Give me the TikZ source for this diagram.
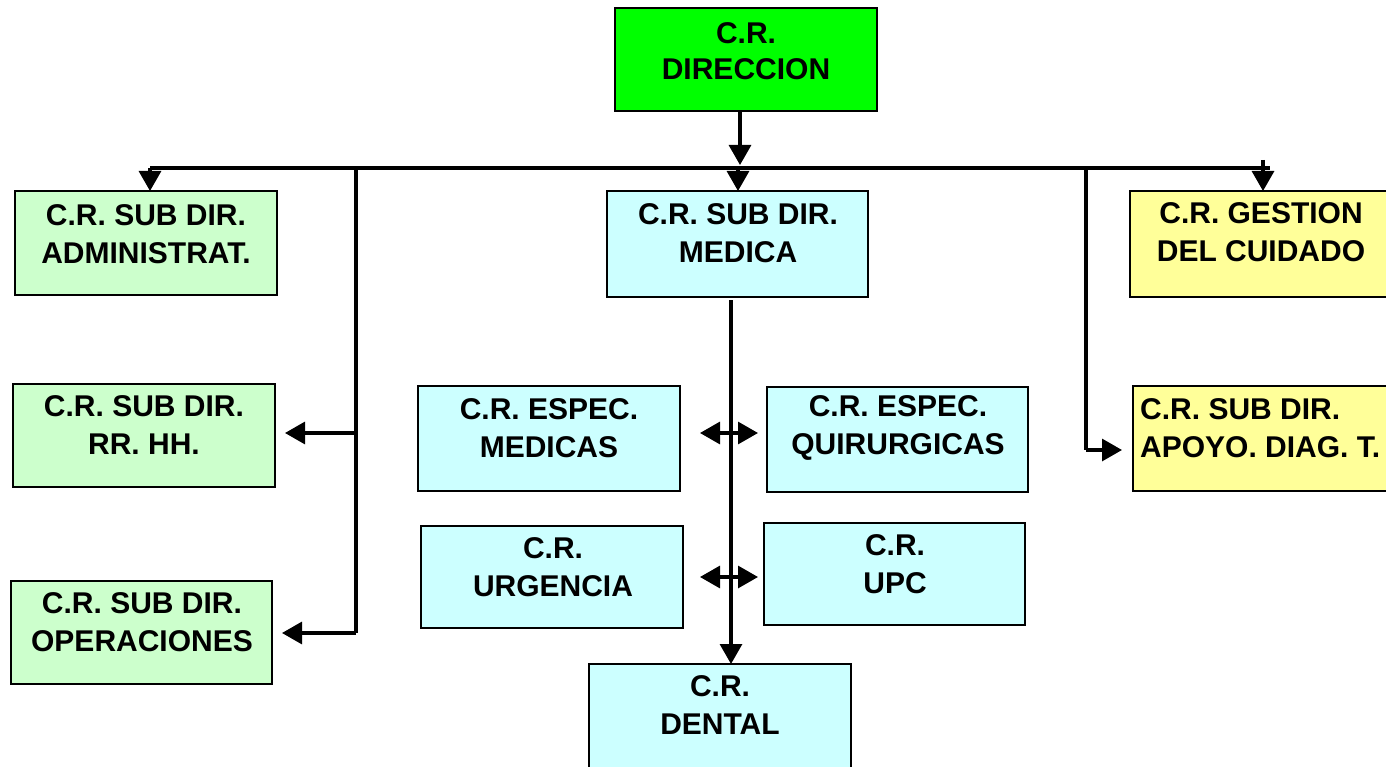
\documentclass[tikz,border=0pt]{standalone}
\usepackage{fontspec}
\setmainfont{Liberation Sans}
\usetikzlibrary{arrows.meta}
\definecolor{dirgreen}{HTML}{00FF00}
\definecolor{lgreen}{HTML}{CCFFCC}
\definecolor{lcyan}{HTML}{CCFFFF}
\definecolor{lyellow}{HTML}{FFFF99}
\newcommand{\orgbox}[6]{\node[orgrect,fill=#6,minimum width={(#4)-(#2)},minimum height={(#5)-(#3)}] (#1) at ({((#2)+(#4))/2},{((#3)+(#5))/2}) {};}
\begin{document}
\begin{tikzpicture}[x=1pt,y=-1pt,
  orgrect/.style={draw=black,line width=2.3pt,inner sep=0pt,outer sep=0pt,rectangle},
  lbl/.style={font=\fontsize{30}{38}\selectfont\bfseries,align=center,inner sep=0pt,text=black},
  conn/.style={draw=black,line width=3.1pt},
  arr/.style={conn,-{Triangle[length=20pt,width=22pt]}},
  darr/.style={conn,{Triangle[length=20pt,width=22pt]}-{Triangle[length=20pt,width=22pt]}}]
\clip (0,0) rectangle (1386,767);
\fill[white] (0,0) rectangle (1386,767);
% boxes
\orgbox{dir}{615}{8}{877}{111}{dirgreen}
\orgbox{adm}{15}{191}{277}{295}{lgreen}
\orgbox{med}{607}{191}{868}{297}{lcyan}
\orgbox{ges}{1130}{191}{1420}{297}{lyellow}
\orgbox{rrhh}{13}{384}{275}{487}{lgreen}
\orgbox{espm}{418}{386}{680}{491}{lcyan}
\orgbox{espq}{767}{387}{1028}{492}{lcyan}
\orgbox{apo}{1133}{386}{1420}{491}{lyellow}
\orgbox{urg}{421}{526}{683}{628}{lcyan}
\orgbox{upc}{764}{523}{1025}{625}{lcyan}
\orgbox{ope}{11}{581}{272}{684}{lgreen}
\orgbox{den}{589}{664}{851}{790}{lcyan}
% texts
\node[lbl,font=\fontsize{30}{36}\selectfont\bfseries] (tdir) at (746,51) {C.R.\\DIRECCION};
\node[lbl] (tadm) at (146,234) {C.R. SUB DIR.\\ADMINISTRAT.};
\node[lbl] (tmed) at (738,233.5) {C.R. SUB DIR.\\MEDICA};
\node[lbl] (tges) at (1261,232.5) {C.R. GESTION\\DEL CUIDADO};
\node[lbl] (trrhh) at (144,425.5) {C.R. SUB DIR.\\RR. HH.};
\node[lbl] (tespm) at (549,428) {C.R. ESPEC.\\MEDICAS};
\node[lbl] (tespq) at (898,428) {C.R. ESPEC.\\QUIRURGICAS};
\node[lbl,align=left,anchor=west] (tapo) at (1140,428) {C.R. SUB DIR.\\APOYO. DIAG. T.};
\node[lbl] (turg) at (553,567) {C.R.\\URGENCIA};
\node[lbl] (tupc) at (895,564) {C.R.\\UPC};
\node[lbl] (tope) at (142,622) {C.R. SUB DIR.\\OPERACIONES};
\node[lbl] (tden) at (720,705) {C.R.\\DENTAL};
% junction coordinates
\coordinate (dout) at (740,111);
\coordinate (din) at (740,165);
\coordinate (busL) at (150,168);
\coordinate (busR) at (1270,168);
\coordinate (bM) at (738,168);
\coordinate (bG) at (1263,160);
\coordinate (vLt) at (356,168);
\coordinate (vLa) at (356,433);
\coordinate (vLb) at (356,633);
\coordinate (rrin) at (285,433);
\coordinate (opin) at (282,633);
\coordinate (vRt) at (1086,168);
\coordinate (vRb) at (1086,450);
\coordinate (apin) at (1122,450);
\coordinate (mout) at (731,300);
\coordinate (m1L) at (700,433);
\coordinate (m1R) at (758,433);
\coordinate (m2L) at (700,577);
\coordinate (m2R) at (758,577);
% connectors
\draw[arr] (dout) -- (din);
\draw[conn] (busL) -- (busR);
\draw[arr] (busL) -- (busL |- adm.north);
\draw[arr] (bM) -- (bM |- med.north);
\draw[arr] (bG) -- (bG |- ges.north);
\draw[conn] (vLt) -- (vLb);
\draw[arr] (vLa) -- (rrin);
\draw[arr] (vLb) -- (opin);
\draw[conn] (vRt) -- (vRb);
\draw[arr] (vRb) -- (apin);
\draw[arr] (mout) -- (mout |- den.north);
\draw[darr] (m1L) -- (m1R);
\draw[darr] (m2L) -- (m2R);
\end{tikzpicture}
\end{document}
